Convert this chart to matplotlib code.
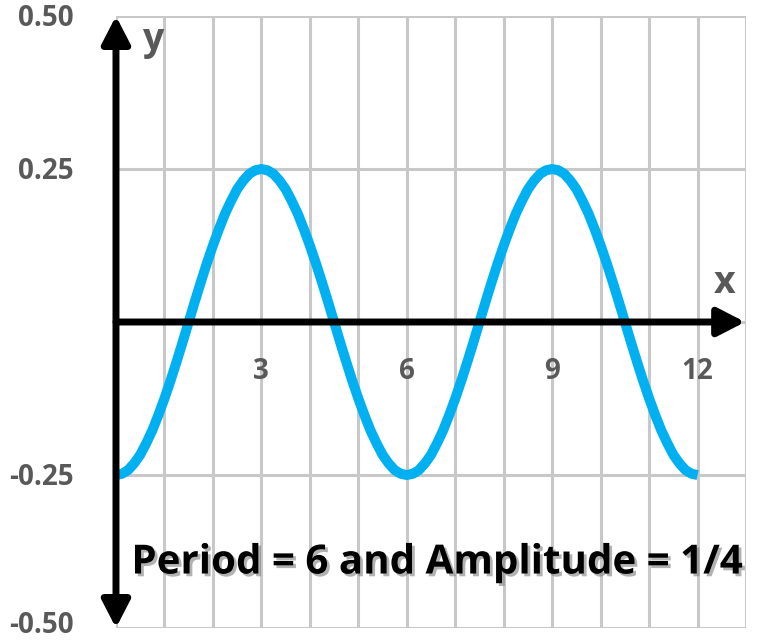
import matplotlib
matplotlib.use("Agg")
import matplotlib.pyplot as plt
import matplotlib.patheffects as pe

# ---------------------------------------------------------------------------
# Data
# ---------------------------------------------------------------------------
x_vals = [0.0, 0.125, 0.25, 0.375, 0.5, 0.625, 0.75, 0.875,
          1.0, 1.125, 1.25, 1.375, 1.5, 1.625, 1.75, 1.875,
          2.0, 2.125, 2.25, 2.375, 2.5, 2.625, 2.75, 2.875,
          3.0, 3.125, 3.25, 3.375, 3.5, 3.625, 3.75, 3.875,
          4.0, 4.125, 4.25, 4.375, 4.5, 4.625, 4.75, 4.875,
          5.0, 5.125, 5.25, 5.375, 5.5, 5.625, 5.75, 5.875,
          6.0, 6.125, 6.25, 6.375, 6.5, 6.625, 6.75, 6.875,
          7.0, 7.125, 7.25, 7.375, 7.5, 7.625, 7.75, 7.875,
          8.0, 8.125, 8.25, 8.375, 8.5, 8.625, 8.75, 8.875,
          9.0, 9.125, 9.25, 9.375, 9.5, 9.625, 9.75, 9.875,
          10.0, 10.125, 10.25, 10.375, 10.5, 10.625, 10.75, 10.875,
          11.0, 11.125, 11.25, 11.375, 11.5, 11.625, 11.75, 11.875,
          12.0]
y_vals = [-0.250, -0.248, -0.242, -0.231, -0.217, -0.198, -0.177, -0.152,
          -0.125, -0.096, -0.065, -0.033, 0.000, 0.033, 0.065, 0.096,
          0.125, 0.152, 0.177, 0.198, 0.217, 0.231, 0.242, 0.248,
          0.250, 0.248, 0.242, 0.231, 0.217, 0.198, 0.177, 0.152,
          0.125, 0.096, 0.065, 0.033, 0.000, -0.033, -0.065, -0.096,
          -0.125, -0.152, -0.177, -0.198, -0.217, -0.231, -0.242, -0.248,
          -0.250, -0.248, -0.242, -0.231, -0.217, -0.198, -0.177, -0.152,
          -0.125, -0.096, -0.065, -0.033, 0.000, 0.033, 0.065, 0.096,
          0.125, 0.152, 0.177, 0.198, 0.217, 0.231, 0.242, 0.248,
          0.250, 0.248, 0.242, 0.231, 0.217, 0.198, 0.177, 0.152,
          0.125, 0.096, 0.065, 0.033, 0.000, -0.033, -0.065, -0.096,
          -0.125, -0.152, -0.177, -0.198, -0.217, -0.231, -0.242, -0.248,
          -0.250]

x_ticks = [3, 6, 9, 12]
x_tick_labels = ["3", "6", "9", "12"]
y_ticks = [-0.5, -0.25, 0.25, 0.5]
y_tick_labels = ["-0.50", "-0.25", "0.25", "0.50"]
caption = "Period = 6 and Amplitude = 1/4"

X_MAX = 13
LABEL_GRAY = "#595959"
CURVE_BLUE = "#00B0F0"
FONT = "Open Sans"

# ---------------------------------------------------------------------------
# Figure
# ---------------------------------------------------------------------------
fig = plt.figure(figsize=(7.61, 6.41), dpi=100)
ax = fig.add_axes([0.1524, 0.0203, 0.828, 0.9547])
ax.set_xlim(0, X_MAX)
ax.set_ylim(-0.5, 0.5)

# grid
for gx in range(0, X_MAX + 1):
    ax.axvline(gx, color="#c8c8c8", lw=2.2, zorder=1)
for gy in [-0.5, -0.25, 0.0, 0.25, 0.5]:
    ax.axhline(gy, color="#c8c8c8", lw=2.2, zorder=1)

for s in ax.spines.values():
    s.set_visible(False)
ax.set_xticks([])
ax.set_yticks([])

# curve
ax.plot(x_vals, y_vals, color=CURVE_BLUE, lw=7.2, solid_capstyle="butt",
        solid_joinstyle="round", zorder=3)

# axes arrows
ax.annotate("", xy=(0, 0.5), xytext=(0, -0.5),
            arrowprops=dict(arrowstyle="<|-|>,head_length=1.65,head_width=0.85",
                            color="black", lw=5, shrinkA=0, shrinkB=0),
            zorder=4, annotation_clip=False)
ax.annotate("", xy=(12.98, 0), xytext=(0, 0),
            arrowprops=dict(arrowstyle="-|>,head_length=1.65,head_width=0.85",
                            color="black", lw=5, shrinkA=0, shrinkB=0),
            zorder=4, annotation_clip=False)

# tick labels as text
for xt, lab in zip(x_ticks, x_tick_labels):
    ax.text(xt, -0.0934, lab, ha="center", va="baseline", fontsize=20,
            fontweight="bold", color=LABEL_GRAY, family=FONT)
for yt, lab in zip(y_ticks, y_tick_labels):
    # bottom label nudged up slightly so it stays inside the figure
    off = 0.008 if yt == -0.5 else 0.016
    ax.text(-0.88, yt - off, lab, ha="right", va="baseline", fontsize=20,
            fontweight="bold", color=LABEL_GRAY, family=FONT,
            clip_on=False)

ax.text(0.76, 0.444, "y", ha="center", va="baseline", fontsize=27,
        fontweight="bold", color=LABEL_GRAY, family=FONT)
ax.text(12.56, 0.0475, "x", ha="center", va="baseline", fontsize=27,
        fontweight="bold", color=LABEL_GRAY, family=FONT)

ax.text(6.61, -0.411, caption, ha="center", va="baseline", fontsize=29,
        fontweight="bold", color="black", family=FONT, zorder=5,
        path_effects=[pe.withSimplePatchShadow(offset=(2, -2),
                                               shadow_rgbFace="#808080",
                                               alpha=0.6)])

fig.savefig("out.png", dpi=100)
